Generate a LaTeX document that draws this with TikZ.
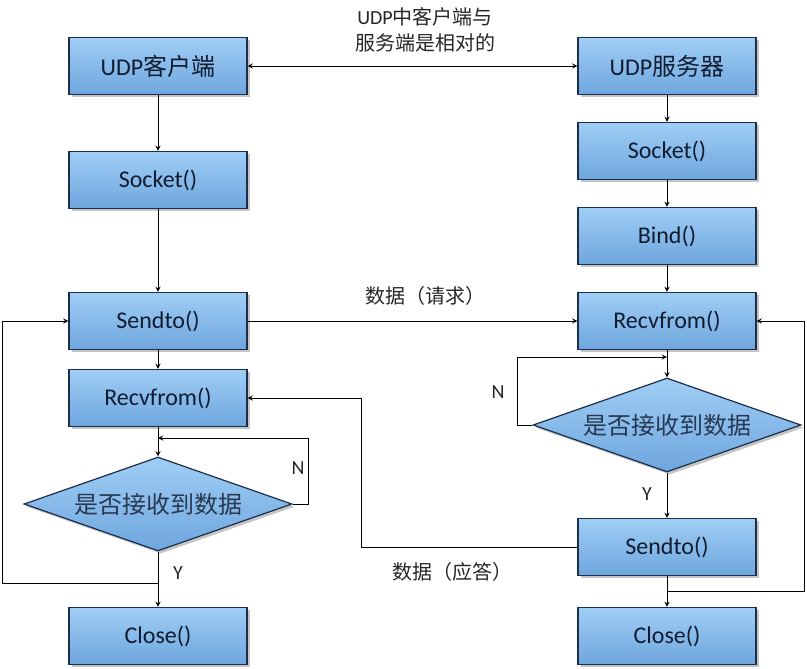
\documentclass[tikz,border=0pt]{standalone}
\usepackage{fontspec}
\setmainfont{Carlito}
\newfontfamily\cjk{Noto Sans CJK SC}
\usetikzlibrary{shapes.geometric,shadows}
\definecolor{boxtop}{RGB}{160,206,245}
\definecolor{boxbot}{RGB}{110,166,222}
\definecolor{boxline}{RGB}{28,46,76}
\definecolor{boxtext}{RGB}{18,28,48}
\definecolor{dectext}{RGB}{40,56,80}

\begin{document}
\begin{tikzpicture}[x=0.75pt,y=-0.75pt]
    \tikzstyle{edge}  = [line width=0.75pt,draw=black]
    \tikzstyle{dedge} = [edge,->,>=stealth]
    \tikzstyle{fbox}=[
      rectangle,
      draw=boxline,
      line width=0.9pt,
      top color=boxtop,
      bottom color=boxbot,
      minimum width=133.5pt,
      minimum height=42.75pt,
      text=boxtext,
      font=\fontsize{18}{22}\selectfont,
      drop shadow={shadow xshift=2pt,shadow yshift=-2pt,fill=black!45},
    ]
    \tikzstyle{dec}=[
      fbox,
      diamond,
      aspect=2.85,
      inner sep=0pt,
      minimum width=201pt,
      minimum height=70.5pt,
      text=dectext,
    ]
    \tikzstyle{lbl}=[
      text=black!85,
      font=\fontsize{15}{19.5}\selectfont,
    ]

    \useasboundingbox (0,0) rectangle (807,668);

    {
      \node[fbox] (c1) at (158,66) {UDP{\cjk 客户端}};
      \node[fbox] (c2) at (158,180) {Socket()};
      \node[fbox] (c3) at (158,321) {Sendto()};
      \node[fbox] (c4) at (158,398) {Recvfrom()};
      \node[dec] (c5) at (158,504) {\cjk 是否接收到数据};
      \node[fbox] (c6) at (158,636) {Close()};

      \node[fbox] (s1) at (667,66) {UDP{\cjk 服务器}};
      \node[fbox] (s2) at (667,151) {Socket()};
      \node[fbox] (s3) at (667,236) {Bind()};
      \node[fbox] (s4) at (667,321) {Recvfrom()};
      \node[dec] (s5) at (667,425) {\cjk 是否接收到数据};
      \node[fbox] (s6) at (667,547) {Sendto()};
      \node[fbox] (s7) at (667,636) {Close()};

      \node[lbl,align=center] (t1) at (425,30) {UDP{\cjk 中客户端与}\\{\cjk 服务端是相对的}};
      \node[lbl] (t2) at (425,296) {\cjk 数据（请求）};
      \node[lbl] (t3) at (452,572) {\cjk 数据（应答）};
      \node[lbl] (n1) at (298,468) {N};
      \node[lbl] (y1) at (178,573) {Y};
      \node[lbl] (n2) at (498,392) {N};
      \node[lbl] (y2) at (647,494) {Y};

      \coordinate (cm) at (158,438);
      \coordinate (cy) at (158,583);
      \coordinate (sm) at (667,357);
      \coordinate (sy) at (667,591);
    }

    {
      \draw[dedge,<->] (c1)--(s1);

      \draw[dedge] (c1)--(c2);
      \draw[dedge] (c2)--(c3);
      \draw[dedge] (c3)--(c4);
      \draw[dedge] (c4)--(c5);
      \draw[dedge] (c5)--(c6);
      \draw[dedge] (c5.east) -- ++(16,0) |- (cm);
      \draw[dedge] (cy) -- ++(-156,0) |- (c3.west);

      \draw[dedge] (c3)--(s4);

      \draw[dedge] (s1)--(s2);
      \draw[dedge] (s2)--(s3);
      \draw[dedge] (s3)--(s4);
      \draw[dedge] (s4)--(s5);
      \draw[dedge] (s5)--(s6);
      \draw[dedge] (s6)--(s7);
      \draw[dedge] (s5.west) -- ++(-15,0) |- (sm);
      \draw[dedge] (s6.west) -- ++(-216,0) |- (c4.east);
      \draw[dedge] (sy) -- ++(137,0) |- (s4.east);
    }
\end{tikzpicture}
\end{document}
